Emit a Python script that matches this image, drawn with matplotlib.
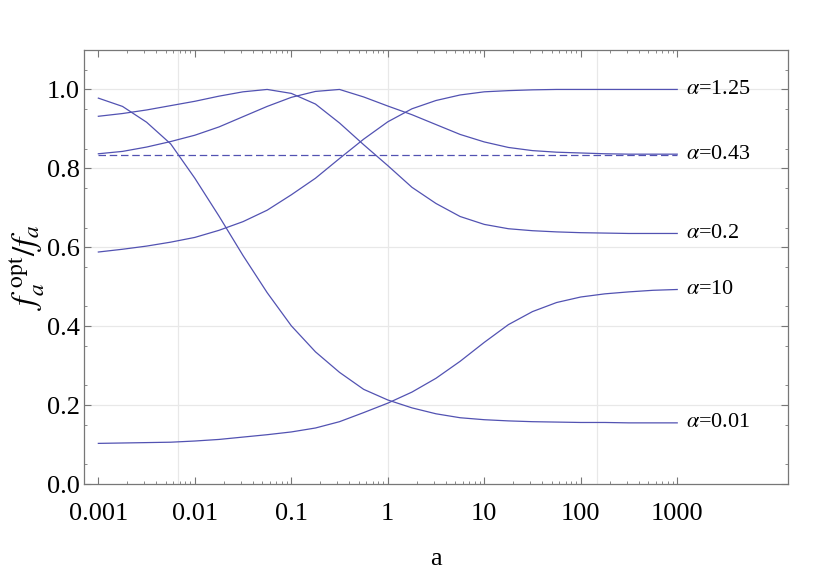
import numpy as np
import matplotlib
matplotlib.use("Agg")
import matplotlib.pyplot as plt
import matplotlib.ticker as ticker

# ── Data (a on log axis) ───────────────────────────────────────
a_vals = [0.001, 0.00178, 0.00316, 0.00562, 0.01, 0.0178, 0.0316, 0.0562,
          0.1, 0.178, 0.316, 0.562, 1, 1.78, 3.16, 5.62, 10, 17.8, 31.6,
          56.2, 100, 178, 316, 562, 1000]

y_alpha_001 = [0.978, 0.957, 0.917, 0.862, 0.775, 0.679, 0.579, 0.485,
               0.401, 0.335, 0.283, 0.240, 0.213, 0.193, 0.178, 0.168,
               0.163, 0.160, 0.158, 0.157, 0.156, 0.156, 0.155, 0.155, 0.155]
y_alpha_02 = [0.932, 0.939, 0.948, 0.959, 0.970, 0.983, 0.994, 1.000,
              0.990, 0.963, 0.915, 0.860, 0.807, 0.752, 0.711, 0.678,
              0.658, 0.647, 0.642, 0.639, 0.637, 0.636, 0.635, 0.635, 0.635]
y_alpha_043 = [0.837, 0.843, 0.854, 0.868, 0.884, 0.905, 0.931, 0.957,
               0.980, 0.995, 1.000, 0.981, 0.958, 0.936, 0.911, 0.886,
               0.867, 0.853, 0.845, 0.841, 0.839, 0.837, 0.836, 0.836, 0.836]
y_alpha_125 = [0.588, 0.595, 0.603, 0.613, 0.625, 0.643, 0.665, 0.694,
               0.733, 0.775, 0.825, 0.874, 0.918, 0.951, 0.972, 0.986,
               0.994, 0.997, 0.999, 1.0, 1.0, 1.0, 1.0, 1.0, 1.0]
y_alpha_10 = [0.103, 0.104, 0.105, 0.106, 0.109, 0.113, 0.119, 0.125,
              0.132, 0.142, 0.158, 0.181, 0.205, 0.233, 0.268, 0.311,
              0.359, 0.404, 0.437, 0.460, 0.474, 0.482, 0.487, 0.491, 0.493]

dashed_a = [0.001, 1000]
dashed_y = [0.835, 0.835]

curves = [
    (y_alpha_125, r"$\alpha$=1.25"),
    (y_alpha_043, r"$\alpha$=0.43"),
    (y_alpha_02,  r"$\alpha$=0.2"),
    (y_alpha_10,  r"$\alpha$=10"),
    (y_alpha_001, r"$\alpha$=0.01"),
]

LINE = "#5252b2"
FRAME = "#777777"
GRID = "#e8e8e8"

plt.rcParams["font.family"] = ["Liberation Serif", "DejaVu Serif"]
plt.rcParams["mathtext.fontset"] = "stix"

fig = plt.figure(figsize=(8.34, 5.72), dpi=100)
ax = fig.add_axes([0.1007, 0.1538, 0.8441, 0.7588])

# grid lines (Mathematica put them at e^-5, e^0, e^5)
for gx in (np.exp(-5), 1.0, np.exp(5)):
    ax.axvline(gx, color=GRID, lw=0.9, zorder=0)
for gy in (0.2, 0.4, 0.6, 0.8, 1.0):
    ax.axhline(gy, color=GRID, lw=0.9, zorder=0)

for ys, lbl in curves:
    ax.plot(a_vals, ys, color=LINE, lw=0.9, zorder=2)
    ax.text(1230, ys[-1], lbl, fontsize=16, va="center", ha="left",
            color="black")
ax.plot(dashed_a, dashed_y, color=LINE, lw=0.9, dashes=(6, 3), zorder=2)

ax.set_xscale("log")
ax.set_xlim(10 ** -3.149, 10 ** 4.148)
ax.set_ylim(0, 1.1)

ax.set_xticks([1e-3, 1e-2, 1e-1, 1, 10, 100, 1000])
ax.set_xticklabels(["0.001", "0.01", "0.1", "1", "10", "100", "1000"])
minors = [m * 10.0 ** e for e in range(-3, 3) for m in range(2, 10)]
ax.xaxis.set_minor_locator(ticker.FixedLocator(minors))
ax.xaxis.set_minor_formatter(ticker.NullFormatter())

ax.set_yticks([0, 0.2, 0.4, 0.6, 0.8, 1.0])
ax.yaxis.set_major_formatter(ticker.FormatStrFormatter("%.1f"))
ax.yaxis.set_minor_locator(ticker.FixedLocator(np.arange(0.05, 1.1, 0.1)))

ax.tick_params(which="both", direction="in", top=True, right=True,
               colors=FRAME, labelcolor="black", labelsize=19)
ax.tick_params(axis="x", which="major", length=5, width=0.8, pad=14)
ax.tick_params(axis="x", which="minor", length=2.5, width=0.6)
ax.tick_params(axis="y", which="major", length=5, width=0.8, pad=3)
ax.tick_params(axis="y", which="minor", length=2.5, width=0.6)

for sp in ax.spines.values():
    sp.set_color(FRAME)
    sp.set_linewidth(0.9)

ax.set_xlabel("a", fontsize=19, labelpad=16)
ax.set_ylabel(r"$f_a^{\;\mathrm{opt}}/f_a$", fontsize=24, labelpad=0)

fig.savefig("out.png", dpi=100, facecolor="white")
plt.close(fig)
